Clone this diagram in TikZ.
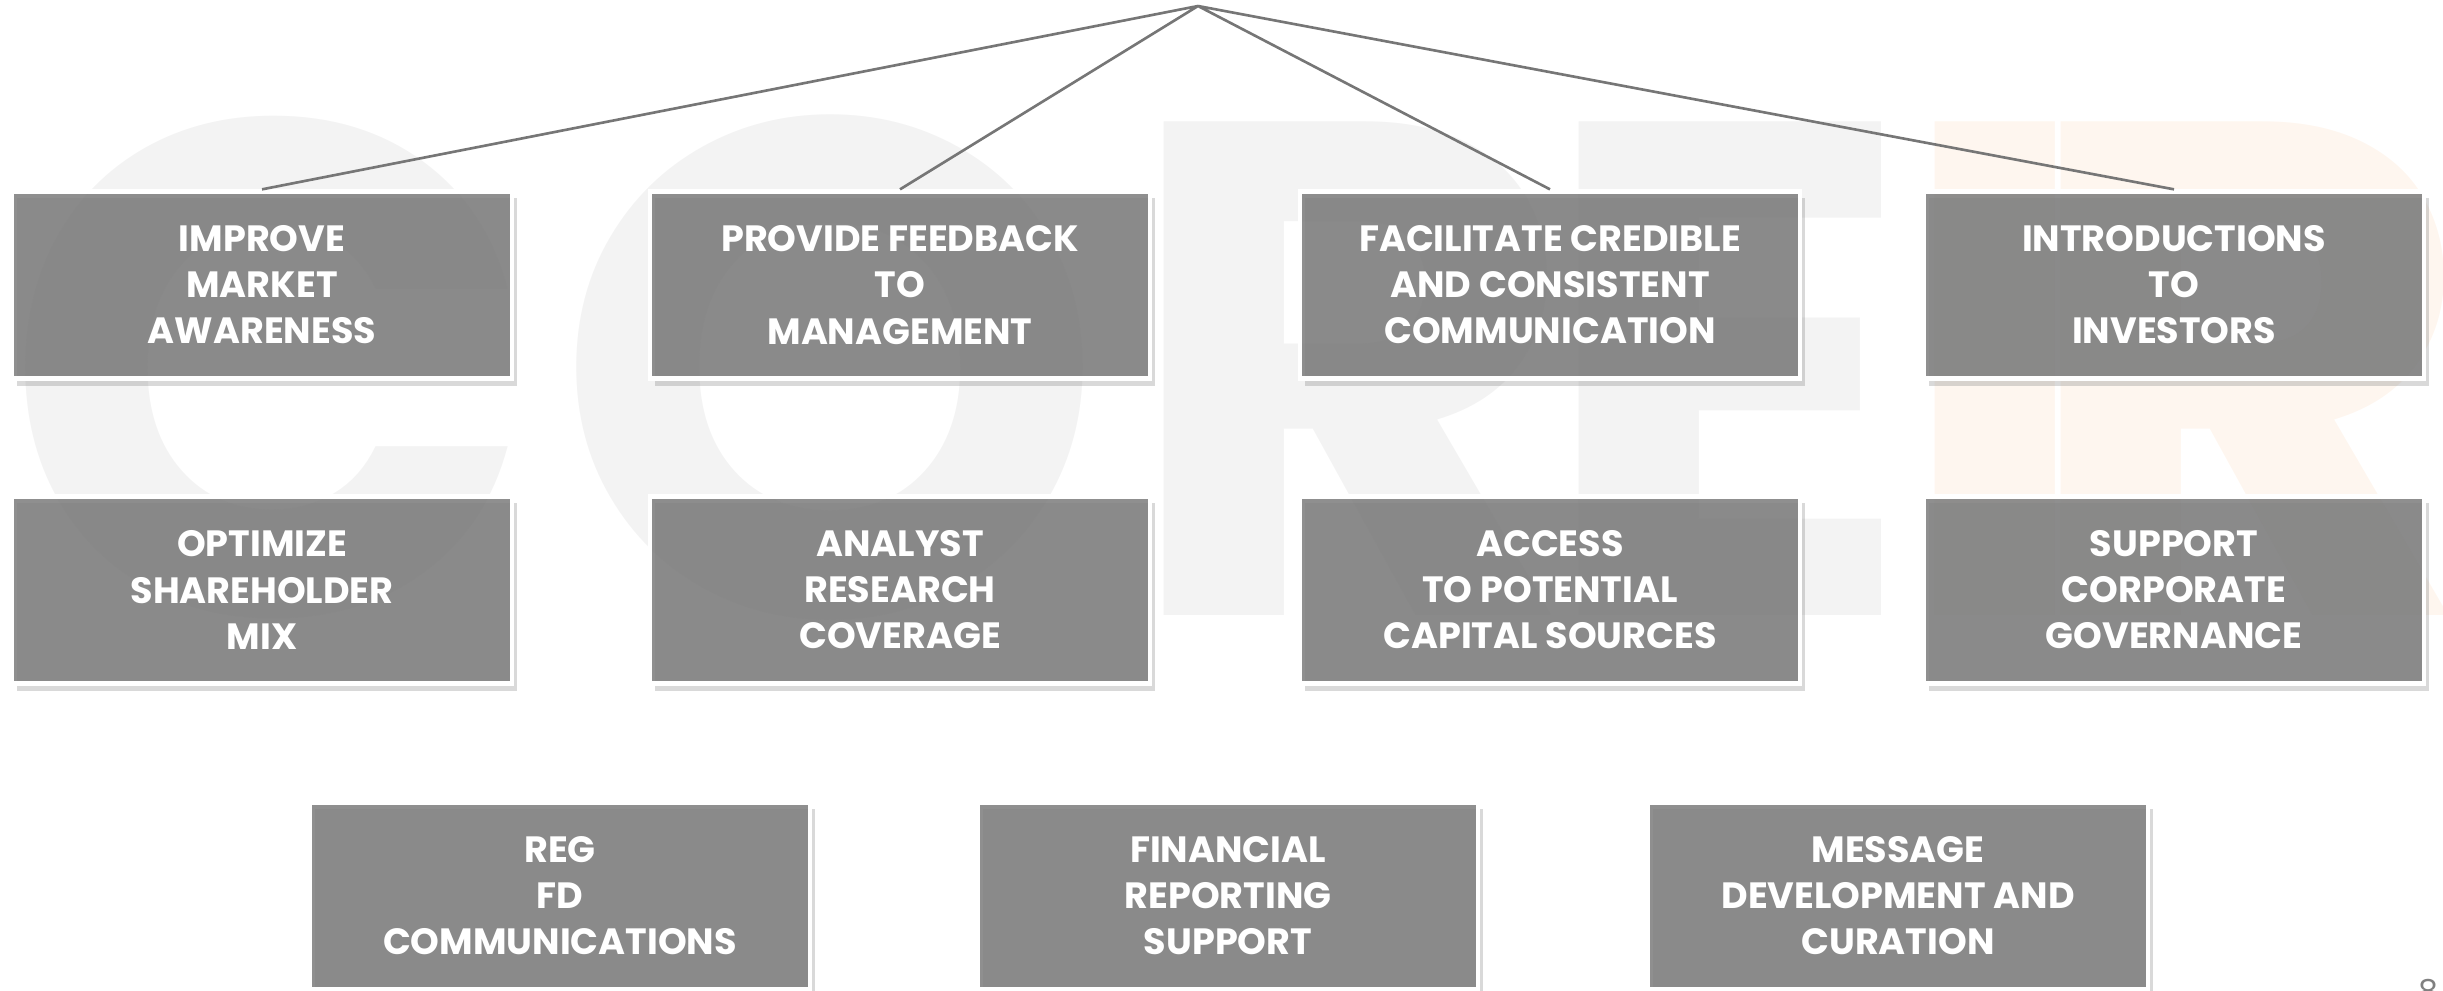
\documentclass[tikz,border=0pt]{standalone}
\usepackage{fontspec}
\setmainfont{Poppins}
\usetikzlibrary{shadows}
\definecolor{boxgray}{RGB}{127,127,127}
\definecolor{linegray}{RGB}{118,118,118}
\definecolor{markgray}{RGB}{243,243,243}
\definecolor{markpeach}{RGB}{254,246,239}
\tikzset{
  goal/.style={rectangle,draw=white,line width=1.2pt,fill=boxgray,fill opacity=.88,text opacity=1,
    minimum width=4.99cm,minimum height=1.87cm,align=center,text=white,
    font=\fontsize{10.4}{13.1}\selectfont\bfseries,
    drop shadow={shadow xshift=.05cm,shadow yshift=-.07cm,opacity=.3}},
  link/.style={draw=linegray,line width=.75pt},
  wmark/.style={anchor=base,inner sep=0pt,font=\fontsize{200}{200}\selectfont\bfseries,text=markgray}
}
\begin{document}
\begin{tikzpicture}[x=0.01cm,y=-0.01cm]
          \useasboundingbox (0,0) rectangle (2443,990);
          % watermark
          \node[wmark] (w1) at (270,615) {C};
          \node[wmark] (w2) at (830,615) {O};
          \node[wmark] (w3) at (1350,615) {R};
          \node[wmark] (w4) at (1726,615) {E};
          \node[wmark,text=markpeach] (w5) at (1995,615) {I};
          \node[wmark,text=markpeach] (w6) at (2247,615) {R};
          % goals
          \coordinate (top) at (1198,6);
          \node[goal] (a) at (262,285) {IMPROVE\\MARKET\\AWARENESS};
          \node[goal] (b) at (900,285) {PROVIDE FEEDBACK\\TO\\MANAGEMENT};
          \node[goal] (c) at (1550,285) {FACILITATE CREDIBLE\\AND CONSISTENT\\COMMUNICATION};
          \node[goal] (d) at (2174,285) {INTRODUCTIONS\\TO\\INVESTORS};
          \node[goal] (e) at (262,590) {OPTIMIZE\\SHAREHOLDER\\MIX};
          \node[goal] (f) at (900,590) {ANALYST\\RESEARCH\\COVERAGE};
          \node[goal] (g) at (1550,590) {ACCESS\\TO POTENTIAL\\CAPITAL SOURCES};
          \node[goal] (h) at (2174,590) {SUPPORT\\CORPORATE\\GOVERNANCE};
          \node[goal] (i) at (560,896) {REG\\FD\\COMMUNICATIONS};
          \node[goal] (j) at (1228,896) {FINANCIAL\\REPORTING\\SUPPORT};
          \node[goal] (k) at (1898,896) {MESSAGE\\DEVELOPMENT AND\\CURATION};
          \draw[link] (top) -- (a.north) (top) -- (b.north)
            (top) -- (c.north) (top) -- (d.north);
          \node[anchor=north,inner sep=0pt,text=gray,font=\fontsize{9}{10}\selectfont] (pg) at (2428,979) {8};
        \end{tikzpicture}
\end{document}
